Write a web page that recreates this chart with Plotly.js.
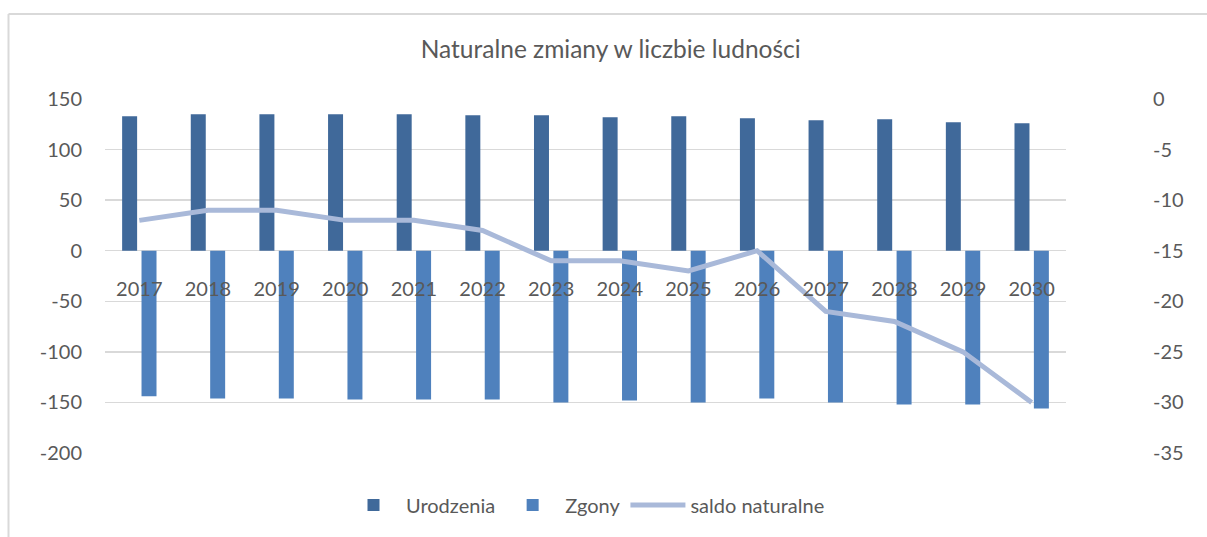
<!DOCTYPE html>
<html>
<head>
<meta charset="utf-8">
<script src="https://cdn.plot.ly/plotly-3.0.1.min.js"></script>
<style>
html,body{margin:0;padding:0;background:#fff;}
#chart{width:1207px;height:537px;}
</style>
</head>
<body>
<div id="chart"></div>
<script>
const years = ["2017","2018","2019","2020","2021","2022","2023","2024","2025","2026","2027","2028","2029","2030"];
const urodzenia = [133,135,135,135,135,134,134,132,133,131,129,130,127,126];
const zgony = [-144,-146,-146,-147,-147,-147,-150,-148,-150,-146,-150,-152,-152,-156];
const saldo = [-12,-11,-11,-12,-12,-13,-16,-16,-17,-15,-21,-22,-25,-30];
const leftTicks = [150,100,50,0,-50,-100,-150,-200];
const rightTicks = [0,-5,-10,-15,-20,-25,-30,-35];

const FONT = "Lato, 'Liberation Sans', sans-serif";
const TXT = "#595959";

const traces = [
  {type:"bar", name:"Urodzenia", x:years, y:urodzenia, marker:{color:"#40699a"}, hoverinfo:"skip"},
  {type:"bar", name:"Zgony", x:years, y:zgony, marker:{color:"#4f81bd"}, hoverinfo:"skip"},
  {type:"scatter", mode:"lines", name:"saldo naturalne", x:years, y:saldo, yaxis:"y2",
   line:{color:"#a9b9d9", width:5}, hoverinfo:"skip"}
];

const L = 105, R = 1066, T = 99, B = 453;
const layout = {
  width:1207, height:537,
  margin:{l:L, r:1207-R, t:T, b:537-B, pad:0},
  paper_bgcolor:"#fff", plot_bgcolor:"#fff",
  font:{family:FONT, size:20, color:TXT},
  title:{text:"Naturalne zmiany w liczbie ludności", x:0.506, xanchor:"center", y:1-49/537, yanchor:"middle",
         font:{family:FONT, size:24.5, color:TXT}},
  barmode:"group", bargap:0.435, bargroupgap:0.227,
  xaxis:{type:"category", anchor:"free", position:200/350, showgrid:false, zeroline:false, showline:false,
         ticks:"", ticklabelstandoff:24, tickfont:{family:FONT, size:20, color:TXT}},
  yaxis:{range:[-200,150], tickvals:leftTicks, ticktext:leftTicks.map(String), showgrid:true, gridcolor:"#d9d9d9", gridwidth:1.5,
         zeroline:false, showline:false, ticks:"", ticklabelstandoff:22, tickfont:{family:FONT, size:20, color:TXT}},
  yaxis2:{range:[-35,0], overlaying:"y", side:"right", tickvals:rightTicks, ticktext:rightTicks.map(String),
          showgrid:false, zeroline:false, showline:false, ticks:"", ticklabelstandoff:86,
          tickfont:{family:FONT, size:20, color:TXT}},
  legend:{orientation:"h", x:0.5, xanchor:"center", y:(B-505)/(B-T), yanchor:"middle",
          font:{family:FONT, size:20, color:TXT}, itemwidth:55, traceorder:"normal"},
  showlegend:true,
  shapes:[
    {type:"line", xref:"paper", yref:"paper", x0:(8.5-L)/(R-L), x1:(8.5-L)/(R-L), y0:(B-14)/(B-T), y1:(B-540)/(B-T),
     line:{color:"#d9d9d9", width:2}},
    {type:"line", xref:"paper", yref:"paper", x0:(8.5-L)/(R-L), x1:(1210-L)/(R-L), y0:(B-14)/(B-T), y1:(B-14)/(B-T),
     line:{color:"#d9d9d9", width:2}}
  ]
};

Plotly.newPlot("chart", traces, layout, {displayModeBar:false, staticPlot:true});
</script>
</body>
</html>
